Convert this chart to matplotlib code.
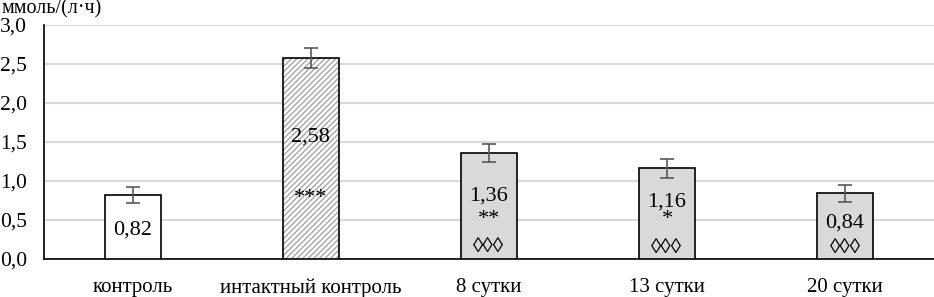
import matplotlib.pyplot as plt

plt.rcParams['font.family'] = ['Liberation Serif', 'DejaVu Serif']
plt.rcParams['hatch.linewidth'] = 1.0

categories = ['контроль', 'интактный контроль', '8 сутки', '13 сутки', '20 сутки']
values = [0.82, 2.58, 1.36, 1.16, 0.84]
errors = [0.10, 0.13, 0.12, 0.12, 0.11]
value_labels = ['0,82', '2,58', '1,36', '1,16', '0,84']
stars = ['', '***', '**', '*', '']
diamonds = ['', '', '◊◊◊', '◊◊◊', '◊◊◊']
yticks = [0, 0.5, 1.0, 1.5, 2.0, 2.5, 3.0]
ytick_labels = ['0,0', '0,5', '1,0', '1,5', '2,0', '2,5', '3,0']

# label heights inside bars (data units)
label_y = [0.37, 1.56, 0.81, 0.73, 0.46]
star_y = [0, 0.78, 0.50, 0.50, 0]
diamond_y = [0, 0, 0.15, 0.13, 0.13]

fig = plt.figure(figsize=(9.34, 2.97), dpi=100)
ax = fig.add_axes([0.047, 0.128, 0.953, 0.788])

x = list(range(len(categories)))
colors = ['white', 'white', '#d9d9d9', '#d9d9d9', '#d9d9d9']
width = 0.315
# hatch layer for the intact control bar (grey hatch lines)
ax.bar(x[1], values[1], width=width, color='white', edgecolor='#a6a6a6',
       linewidth=0, hatch='//////', zorder=3)
fills = [c if i != 1 else 'none' for i, c in enumerate(colors)]
ax.bar(x, values, width=width, color=fills, edgecolor='black', linewidth=1.2, zorder=3.5)
ax.errorbar(x, values, yerr=errors, fmt='none', ecolor='#595959', elinewidth=1.2,
            capsize=5, capthick=1.2, zorder=4)

for i in x:
    ax.text(i, label_y[i], value_labels[i], ha='center', va='center', fontsize=16, zorder=5)
    if stars[i]:
        ax.text(i, star_y[i], stars[i], ha='center', va='center', fontsize=16, zorder=5)
    if diamonds[i]:
        ax.text(i, diamond_y[i], diamonds[i], ha='center', va='center', fontsize=15, zorder=5)

ax.set_xlim(-0.5, len(categories) - 0.5)
ax.set_ylim(0, 3.0)
ax.set_yticks(yticks)
ax.set_yticklabels(ytick_labels, fontsize=15.5)
ax.set_xticks(x)
ax.set_xticklabels(categories, fontsize=15)
ax.tick_params(axis='both', length=0)
ax.tick_params(axis='x', pad=14)
ax.tick_params(axis='y', pad=12)
ax.yaxis.grid(True, color='#d9d9d9', linewidth=1.5, zorder=0)
ax.set_axisbelow(True)
for s in ['top', 'right']:
    ax.spines[s].set_visible(False)
ax.spines['left'].set_color('black')
ax.spines['bottom'].set_color('black')
ax.spines['left'].set_linewidth(1.2)
ax.spines['bottom'].set_linewidth(1.2)

fig.text(0.002, 1.004, 'ммоль/(л·ч)', ha='left', va='top', fontsize=14.5)

fig.savefig('out.png', dpi=100)
